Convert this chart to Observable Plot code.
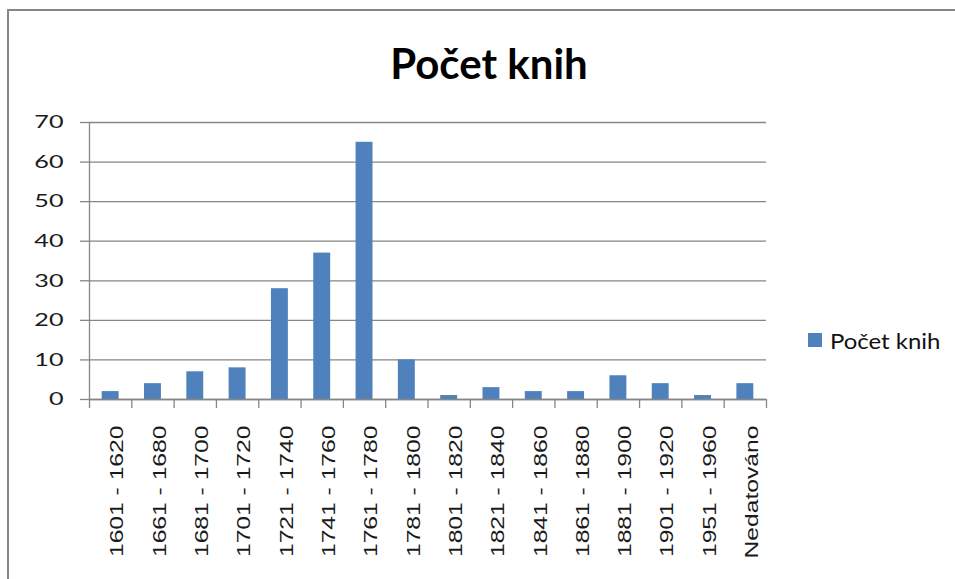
<!DOCTYPE html>
<html><head><meta charset="utf-8">
<script src="https://cdn.jsdelivr.net/npm/d3@7"></script>
<script src="https://cdn.jsdelivr.net/npm/@observablehq/plot@0.6"></script>
<style>
html,body{margin:0;padding:0;background:#fff;overflow:hidden;}
#wrap{position:relative;width:955px;height:579px;overflow:hidden;background:#fff;}
#border{position:absolute;left:7px;top:9px;width:980px;height:620px;border:2px solid #868686;box-sizing:border-box;}
#chart{position:absolute;left:0;top:0;}
#title{position:absolute;left:0;width:978px;top:38px;text-align:center;font-family:Lato,sans-serif;font-weight:bold;font-size:42px;line-height:50px;color:#000;white-space:nowrap;}
#legend{position:absolute;left:808px;top:327px;height:26px;display:flex;align-items:center;font-family:Lato,sans-serif;font-size:21px;color:#111;white-space:nowrap;}
#legend .sw{width:14px;height:14px;background:#4F81BD;margin-right:8px;}
#legend span.t{display:inline-block;transform:scaleX(1.14);transform-origin:left center;}
</style>
</head><body>
<div id="wrap">
  <div id="border"></div>
  <div id="chart"></div>
  <div id="title">Počet knih</div>
  <div id="legend"><div class="sw"></div><span class="t">Počet knih</span></div>
</div>
<script>
const categories = ["1601 - 1620","1661 - 1680","1681 - 1700","1701 - 1720","1721 - 1740","1741 - 1760","1761 - 1780","1781 - 1800","1801 - 1820","1821 - 1840","1841 - 1860","1861 - 1880","1881 - 1900","1901 - 1920","1951 - 1960","Nedatováno"];
const counts = [2, 4, 7, 8, 28, 37, 65, 10, 1, 3, 2, 2, 6, 4, 1, 4];
const yTicks = [0, 10, 20, 30, 40, 50, 60, 70];
const seriesName = "Počet knih";

const data = categories.map((c, i) => ({i, c, v: counts[i]}));
const bounds = d3.range(categories.length + 1);
const centers = data.map(d => d.i + 0.5);
const grey = "#868686";

const svg = Plot.plot({
  width: 955, height: 579,
  marginLeft: 89, marginRight: 189, marginTop: 122, marginBottom: 180,
  x: {domain: [0, categories.length], axis: null, label: null},
  y: {domain: [0, 70], axis: null, label: null},
  style: {background: "transparent", color: "#000"},
  marks: [
    Plot.gridY(yTicks, {stroke: grey, strokeOpacity: 1, strokeWidth: 1.3}),
    Plot.rectY(data, {x1: d => d.i + 0.3, x2: d => d.i + 0.7, y1: 0, y2: "v", fill: "#4F81BD"}),
    Plot.ruleX([0], {stroke: grey, strokeWidth: 1.3}),
    Plot.ruleY([0], {stroke: grey, strokeWidth: 1.3}),
    Plot.axisY(yTicks, {label: null, tickSize: 9, tickPadding: 17, stroke: grey, strokeOpacity: 1, strokeWidth: 1.3, fill: "#1a1a1a", fontSize: 18, fontFamily: "Lato", tickFormat: d => String(d)}),
    Plot.axisX(bounds, {label: null, tickSize: 9, stroke: grey, strokeOpacity: 1, strokeWidth: 1.3, tickFormat: () => ""}),
    Plot.axisX(centers, {label: null, tickSize: 0, tickPadding: 26, rotate: -90, textAnchor: "end", fill: "#1a1a1a", fontSize: 18, fontFamily: "Liberation Sans", tickFormat: d => categories[Math.floor(d)]})
  ]
});
document.getElementById("chart").appendChild(svg);

// widen tick labels along their reading direction
d3.select(svg).selectAll('g[aria-label="y-axis tick label"] text').attr("transform", function() {
  return (this.getAttribute("transform") || "") + " scale(1.4,1)";
});
d3.select(svg).selectAll('g[aria-label="x-axis tick label"] text').attr("transform", function() {
  return (this.getAttribute("transform") || "") + " scale(1.37,1)";
});
</script>
</body></html>
